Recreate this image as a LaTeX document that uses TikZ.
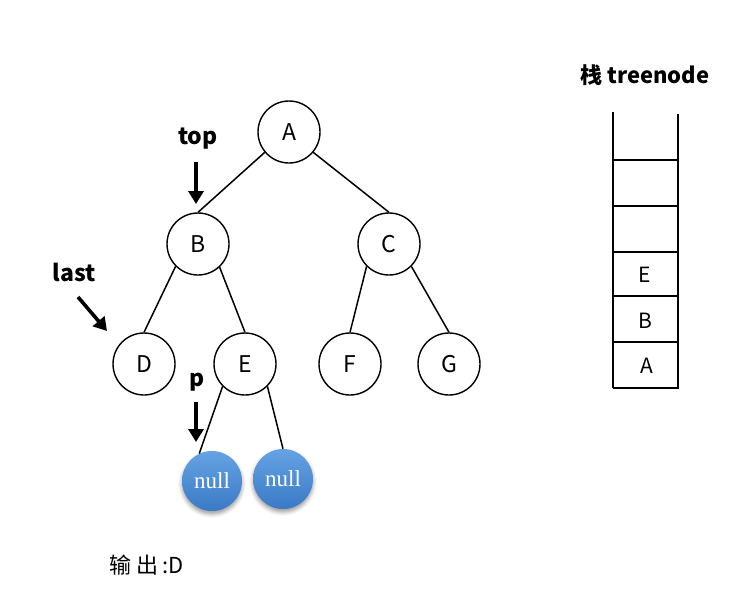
\documentclass[tikz,border=0pt]{standalone}
\usepackage{fontspec}
\setmainfont{Noto Sans CJK SC}
\newfontfamily\nulltxtfont{Liberation Serif}
\usetikzlibrary{arrows.meta,shadows.blur}
\definecolor{nulltop}{HTML}{65A3E3}
\definecolor{nullbot}{HTML}{3A7AC6}
\tikzset{
  tnode/.style={circle,draw,line width=1.4pt,minimum size=62pt,inner sep=0pt,font=\fontsize{23}{23}\selectfont},
  nullnode/.style={circle,minimum size=60pt,inner sep=0pt,top color=nulltop,bottom color=nullbot,
     blur shadow={shadow xshift=0pt,shadow yshift=-3pt,shadow blur radius=4pt,shadow opacity=40},
     text=white,font=\nulltxtfont\fontsize{23}{23}\selectfont},
  edge/.style={line width=1.5pt},
  ptr/.style={line width=3.6pt,-{Triangle[length=13pt,width=15pt]}},
  plabel/.style={font=\bfseries\fontsize{23}{23}\selectfont},
  stk/.style={line width=1.6pt},
  slabel/.style={font=\fontsize{21}{21}\selectfont}
}
\begin{document}
\begin{tikzpicture}[x=1pt,y=-1pt]
\useasboundingbox (0,0) rectangle (744,600);
% tree nodes
\node[tnode] (A) at (289,132) {A};
\node[tnode] (B) at (198,244) {B};
\node[tnode] (C) at (389,244) {C};
\node[tnode] (D) at (144,364) {D};
\node[tnode] (E) at (245,364) {E};
\node[tnode] (F) at (350,364) {F};
\node[tnode] (G) at (449,364) {G};
\node[nullnode] (N1) at (212,481) {null};
\node[nullnode] (N2) at (283,479) {null};
% edges
\draw[edge] (A.-140) -- (B.90);
\draw[edge] (A.-40) -- (C.90);
\draw[edge] (B.-135) -- (D.90);
\draw[edge] (B.-47) -- (E.90);
\draw[edge] (C.-135) -- (F.90);
\draw[edge] (C.-45) -- (G.90);
\draw[edge] (E.-135) -- (N1.115);
\draw[edge] (E.-45) -- (N2.90);
% pointers
\node[plabel] (top) at (198,139) {top};
\node[plabel] (last) at (74,272) {last};
\node[plabel] (p) at (197,382) {p};
\coordinate (topS) at (196,162);
\coordinate (topE) at (196,204);
\coordinate (lastS) at (78,297);
\coordinate (lastE) at (107,331);
\coordinate (pS) at (196,402);
\coordinate (pE) at (196,442);
\draw[ptr] (topS) -- (topE);
\draw[ptr] (lastS) -- (lastE);
\draw[ptr] (pS) -- (pE);
% stack
\node[font=\bfseries\fontsize{22}{22}\selectfont] (title) at (645,75) {栈 treenode};
\coordinate (sl1) at (613,112);
\coordinate (sl2) at (613,388);
\coordinate (sr1) at (678,114);
\coordinate (sr2) at (678,389);
\draw[stk] (sl1) -- (sl2);
\draw[stk] (sr1) -- (sr2);
\foreach \yy in {160,206,252,296,342,388}{
  \draw[stk] (613,\yy) -- (678,\yy);
}
\node[slabel] (sE) at (645,275) {E};
\node[slabel] (sB) at (645,321) {B};
\node[slabel] (sA) at (647,366) {A};
% output
\node[font=\fontsize{22}{22}\selectfont,anchor=west] (out) at (106,565) {输\hspace{5pt}出\hspace{4pt}:D};
\end{tikzpicture}
\end{document}
